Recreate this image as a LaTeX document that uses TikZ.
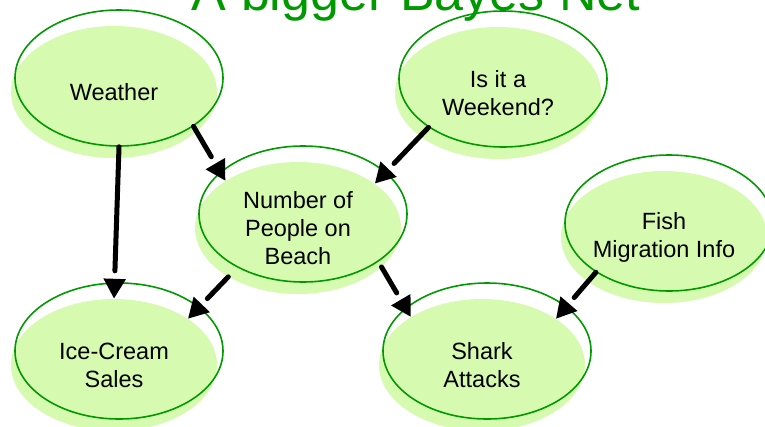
\documentclass[tikz,border=0pt]{standalone}
\usepackage{fontspec}
\setmainfont{Liberation Sans}
\usetikzlibrary{shapes.geometric,arrows.meta,decorations.markings}
\definecolor{leaf}{RGB}{214,251,176}
\definecolor{rimgreen}{RGB}{0,153,0}
\begin{document}
\begin{tikzpicture}[x=1pt,y=-1pt,
  blob/.style={ellipse,fill=leaf,minimum width=206pt,minimum height=132pt,inner sep=0pt,align=center,font=\fontsize{23.5}{28}\selectfont},
  rim/.style={ellipse,draw=rimgreen,line width=1.6pt,minimum width=208pt,minimum height=136pt,inner sep=0pt},
  edge/.style={line width=5pt,line cap=round,shorten >=28pt,postaction={decorate},
    decoration={markings,mark=at position 1 with {\arrow{Triangle[length=20pt,width=21pt]}}}}]
\useasboundingbox (0,0) rectangle (765,426);
\node[text=rimgreen,font=\fontsize{52}{60}\selectfont,anchor=base,inner sep=0pt] (ttl) at (416,10) {A bigger Bayes Net};
% nodes (filled part)
\node[blob] (wea) at (114,92) {Weather};
\node[blob] (wkd) at (498,93) {Is it a\\Weekend?};
\node[blob] (num) at (298,228) {Number of\\People on\\Beach};
\node[blob] (fsh) at (664,237) {Fish\\Migration Info};
\node[blob] (ice) at (114,365) {Ice-Cream\\Sales};
\node[blob] (shk) at (482,365) {Shark\\Attacks};
% green rims, shifted up right
\node[rim] (wea-o) at ([shift={(5,-14)}]wea) {};
\node[rim] (wkd-o) at ([shift={(5,-14)}]wkd) {};
\node[rim] (num-o) at ([shift={(5,-14)}]num) {};
\node[rim] (fsh-o) at ([shift={(5,-14)}]fsh) {};
\node[rim] (ice-o) at ([shift={(5,-14)}]ice) {};
\node[rim] (shk-o) at ([shift={(5,-14)}]shk) {};
% arrows
\draw[edge] (wea-o.-33) -- (num.147);
\draw[edge] (wkd-o.-147) -- (num.30);
\draw[edge] (wea-o.-90) -- (ice.90);
\draw[edge] (num.-145) -- (ice.32);
\draw[edge] (num.-25) -- (shk.146);
\draw[edge] (fsh-o.-146) -- (shk.32);
\end{tikzpicture}
\end{document}
